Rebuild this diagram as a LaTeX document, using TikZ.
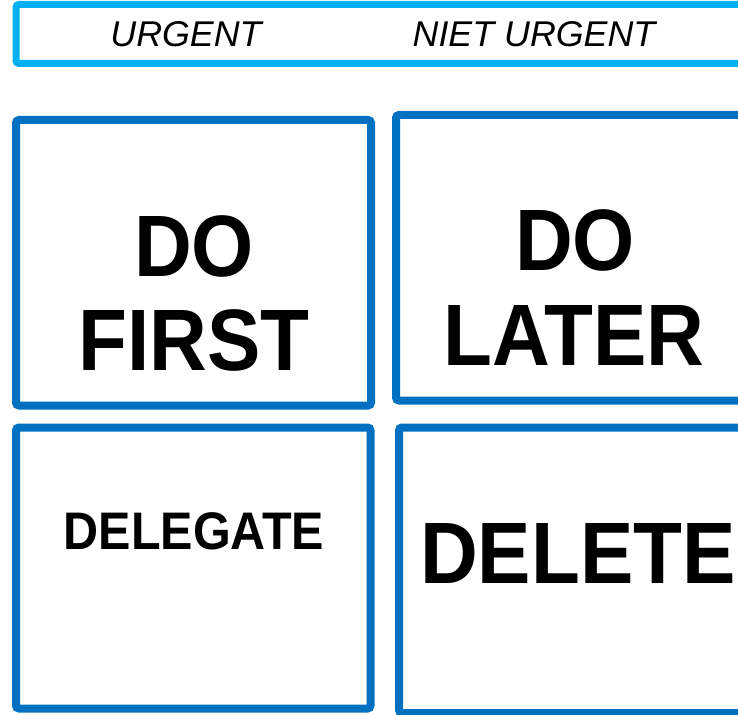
\documentclass[tikz,border=0pt]{standalone}
\usepackage{graphicx}
\usepackage{fontspec}
\setmainfont{Liberation Sans}
\definecolor{barblue}{HTML}{00B0F0}
\definecolor{boxblue}{HTML}{0070C0}
\newcommand{\tallify}[1]{\scalebox{1}[1.09]{#1}}
\tikzset{
  qbox/.style={draw=boxblue, line width=8pt, rounded corners=3pt, inner sep=0pt, outer sep=0pt, anchor=north west},
  topbar/.style={draw=barblue, line width=7pt, rounded corners=3pt, inner sep=0pt, outer sep=0pt, anchor=north west},
  head/.style={font=\fontsize{35.8}{40}\selectfont\itshape, anchor=base, inner sep=0pt},
  big/.style={font=\fontsize{80}{94}\selectfont\bfseries, anchor=base, inner sep=0pt},
  mid/.style={font=\fontsize{48.5}{56}\selectfont\bfseries, anchor=base, inner sep=0pt}
}
\begin{document}
\begin{tikzpicture}[x=1pt,y=-1pt]
\useasboundingbox (0,0) rectangle (738,714);
\node[topbar, minimum width=729pt, minimum height=59pt] (bar) at (16,4.5) {};
\node[qbox, minimum width=355pt, minimum height=285.5pt] (q1) at (16,120) {};
\node[qbox, minimum width=349pt, minimum height=285.5pt] (q2) at (396,115) {};
\node[qbox, minimum width=354.5pt, minimum height=281pt] (q3) at (16,427.5) {};
\node[qbox, minimum width=346pt, minimum height=285.5pt] (q4) at (399,427.5) {};
\node[head] (hu) at (186,47) {URGENT};
\node[head] (hn) at (534,47) {NIET URGENT};
\node[big] (q1a) at (194,276) {\tallify{DO}};
\node[big] (q1b) at (194,370) {\tallify{FIRST}};
\node[big] (q2a) at (575,270) {\tallify{DO}};
\node[big] (q2b) at (574,365) {\tallify{LATER}};
\node[mid] (q3a) at (194,549) {\tallify{DELEGATE}};
\node[big] (q4a) at (578,583) {\tallify{DELETE}};
\end{tikzpicture}
\end{document}
